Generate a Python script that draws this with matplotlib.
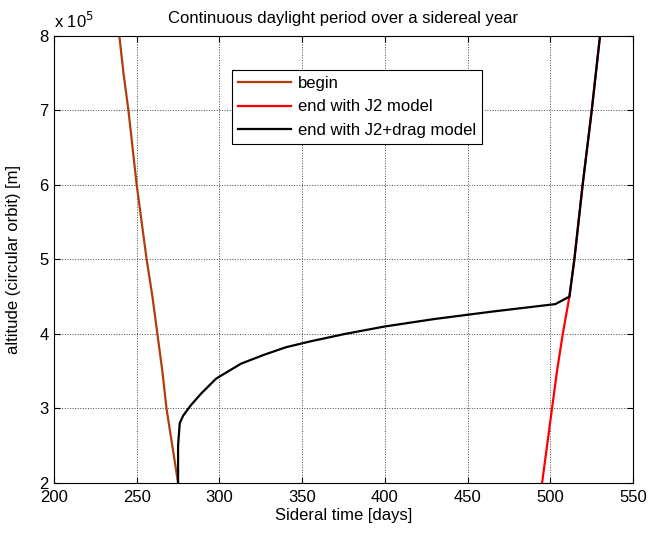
import matplotlib
matplotlib.use("Agg")
import matplotlib.pyplot as plt
from matplotlib.ticker import FuncFormatter

plt.rcParams['font.family'] = ['Liberation Sans', 'DejaVu Sans']

# altitude levels [m]
alt_begin = [2.0e5, 2.5e5, 3.0e5, 3.5e5, 4.0e5, 4.5e5, 5.0e5, 5.5e5, 6.0e5, 6.5e5, 7.0e5, 7.5e5, 8.0e5]
t_begin = [275, 271.5, 268, 265.5, 262.5, 259.5, 256, 253, 250, 247.5, 245, 242, 239.5]

alt_j2 = [2.0e5, 2.5e5, 3.0e5, 3.5e5, 4.0e5, 4.5e5, 5.0e5, 6.0e5, 7.0e5, 8.0e5]
t_j2 = [495, 498, 501, 504, 507.5, 511.5, 514.5, 519.5, 525, 530]

alt_drag = [2.0e5, 2.5e5, 2.8e5, 2.9e5, 3.05e5, 3.2e5, 3.4e5, 3.6e5, 3.72e5, 3.82e5,
            3.9e5, 4.0e5, 4.1e5, 4.2e5, 4.3e5, 4.4e5, 4.5e5, 5.0e5, 6.0e5, 7.0e5, 8.0e5]
t_drag = [275, 275, 276, 278, 283, 289, 298, 313, 327, 340,
          355, 376, 400, 430, 465, 503, 511.5, 514.5, 519.5, 525, 530]

fs = 12

fig = plt.figure(figsize=(6.48, 5.33), dpi=100)
ax = fig.add_axes([0.0833, 0.094, 0.8937, 0.8386])

ax.plot(t_begin, alt_begin, color='#b33c0c', lw=1.6, label='begin')
ax.plot(t_j2, alt_j2, color='#ff0000', lw=1.6, label='end with J2 model')
ax.plot(t_drag, alt_drag, color='black', lw=1.6, label='end with J2+drag model')

ax.set_xlim(200, 550)
ax.set_ylim(2e5, 8e5)
ax.set_xticks(range(200, 551, 50))
ax.set_yticks([2e5, 3e5, 4e5, 5e5, 6e5, 7e5, 8e5])
ax.yaxis.set_major_formatter(FuncFormatter(lambda v, p: f"{v / 1e5:g}"))
ax.tick_params(direction='in', top=True, right=True, labelsize=fs, length=4)
ax.tick_params(axis='x', pad=5)
ax.tick_params(axis='y', pad=4)
ax.grid(True, color='#444444', linestyle=':', linewidth=0.7)
ax.annotate(r'x 10$^5$', xy=(0, 1), xycoords='axes fraction', xytext=(0, 6),
            textcoords='offset points', fontsize=fs, ha='left', va='baseline')

ax.set_xlabel('Sideral time [days]', fontsize=fs, labelpad=2.5)
ax.set_ylabel('altitude (circular orbit) [m]', fontsize=fs, labelpad=13)
ax.set_title('Continuous daylight period over a sidereal year', fontsize=fs, pad=9)

leg = ax.legend(loc='upper left', bbox_to_anchor=(0.307, 0.924), fontsize=fs,
                fancybox=False, edgecolor='black', framealpha=1, borderpad=0.37,
                handlelength=3.2, handletextpad=0.4, labelspacing=0.5, borderaxespad=0)
leg.get_frame().set_linewidth(0.8)

fig.savefig('out.png', dpi=100)
